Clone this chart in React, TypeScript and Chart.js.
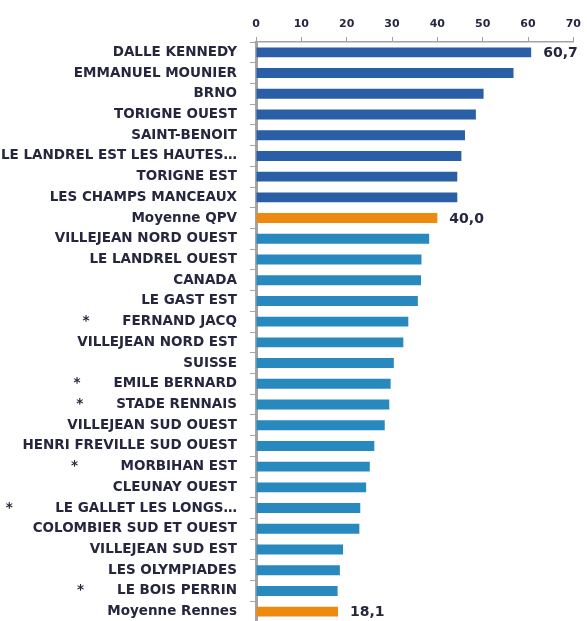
import React, { useEffect, useRef } from "react";
import { Chart, registerables } from "chart.js";

Chart.register(...registerables);

const categories: string[] = [
  "DALLE KENNEDY",
  "EMMANUEL MOUNIER",
  "BRNO",
  "TORIGNE OUEST",
  "SAINT-BENOIT",
  "LE LANDREL EST LES HAUTES\u2026",
  "TORIGNE EST",
  "LES CHAMPS MANCEAUX",
  "Moyenne QPV",
  "VILLEJEAN NORD OUEST",
  "LE LANDREL OUEST",
  "CANADA",
  "LE GAST EST",
  "*       FERNAND JACQ",
  "VILLEJEAN NORD EST",
  "SUISSE",
  "*       EMILE BERNARD",
  "*       STADE RENNAIS",
  "VILLEJEAN SUD OUEST",
  "HENRI FREVILLE SUD OUEST",
  "*         MORBIHAN EST",
  "CLEUNAY OUEST",
  "*         LE GALLET LES LONGS\u2026",
  "COLOMBIER SUD ET OUEST",
  "VILLEJEAN SUD EST",
  "LES OLYMPIADES",
  "*       LE BOIS PERRIN",
  "Moyenne Rennes",
];

const values: number[] = [
  60.7, 56.8, 50.2, 48.5, 46.1, 45.3, 44.4, 44.4, 40.0, 38.2, 36.5, 36.4, 35.7,
  33.6, 32.5, 30.4, 29.7, 29.4, 28.4, 26.1, 25.1, 24.3, 23.0, 22.8, 19.2, 18.5,
  18.0, 18.1,
];

const xTickValues: number[] = [0, 10, 20, 30, 40, 50, 60, 70];

// indexes of the bars that belong to the first (darker) group
const topGroupIndexes: number[] = [0, 1, 2, 3, 4, 5, 6, 7];
// indexes of the average bars (orange)
const averageIndexes: number[] = [8, 27];
// indexes of the bars whose value is written next to them
const labelledIndexes: number[] = [0, 8, 27];

const DARK_BLUE = "#2A5EA7";
const LIGHT_BLUE = "#2889BF";
const ORANGE = "#EF8A10";
const AXIS_GREY = "#A3A3A3";
const TEXT = "#26263F";
const FONT = "'DejaVu Sans', Verdana, sans-serif";

const barColors = values.map((_, i) =>
  averageIndexes.includes(i)
    ? ORANGE
    : topGroupIndexes.includes(i)
    ? DARK_BLUE
    : LIGHT_BLUE
);

const valueLabelPlugin = {
  id: "valueLabels",
  afterDatasetsDraw(chart: any) {
    const ctx = chart.ctx;
    const meta = chart.getDatasetMeta(0);
    ctx.save();
    ctx.font = `bold 14px ${FONT}`;
    ctx.fillStyle = TEXT;
    ctx.textAlign = "left";
    ctx.textBaseline = "middle";
    labelledIndexes.forEach((i) => {
      const el = meta.data[i];
      if (!el) return;
      const txt = values[i].toFixed(1).replace(".", ",");
      ctx.fillText(txt, el.x + 12, el.y + 1);
    });
    ctx.restore();
  },
};

export default function App() {
  const ref = useRef<HTMLCanvasElement | null>(null);

  useEffect(() => {
    if (!ref.current) return;
    const chart = new Chart(ref.current, {
      type: "bar",
      data: {
        labels: categories,
        datasets: [
          {
            data: values,
            backgroundColor: barColors,
            borderWidth: 0,
            categoryPercentage: 1,
            barPercentage: 0.48,
          },
        ],
      },
      options: {
        indexAxis: "y",
        responsive: false,
        devicePixelRatio: 1,
        animation: false,
        layout: { padding: { left: 0, right: 9, top: 0, bottom: 0 } },
        plugins: {
          legend: { display: false },
          tooltip: { enabled: false },
        },
        scales: {
          x: {
            position: "top",
            min: xTickValues[0],
            max: xTickValues[xTickValues.length - 1],
            afterBuildTicks: (s: any) => {
              s.ticks = xTickValues.map((v) => ({ value: v }));
            },
            afterFit: (s: any) => {
              s.height = 42;
            },
            grid: {
              drawOnChartArea: false,
              drawTicks: true,
              tickLength: 5,
              color: AXIS_GREY,
            },
            border: { color: AXIS_GREY, width: 1.5 },
            ticks: {
              padding: 6,
              color: TEXT,
              font: { family: FONT, size: 11, weight: "bold" },
              maxRotation: 0,
            },
          },
          y: {
            afterFit: (s: any) => {
              s.width = 256;
              s.paddingTop = 0;
              s.paddingBottom = 0;
            },
            grid: {
              drawOnChartArea: false,
              drawTicks: true,
              tickLength: 6,
              color: AXIS_GREY,
              offset: true,
            },
            border: { color: AXIS_GREY, width: 3 },
            ticks: {
              autoSkip: false,
              padding: 13,
              color: TEXT,
              font: { family: FONT, size: 13.5, weight: "bold" },
            },
          },
        },
      },
      plugins: [valueLabelPlugin],
    } as any);
    return () => chart.destroy();
  }, []);

  return (
    <div
      style={{
        position: "absolute",
        left: 0,
        top: 0,
        width: 587,
        height: 621,
        overflow: "hidden",
        background: "#fff",
      }}
    >
      <canvas ref={ref} width={587} height={622} />
    </div>
  );
}
